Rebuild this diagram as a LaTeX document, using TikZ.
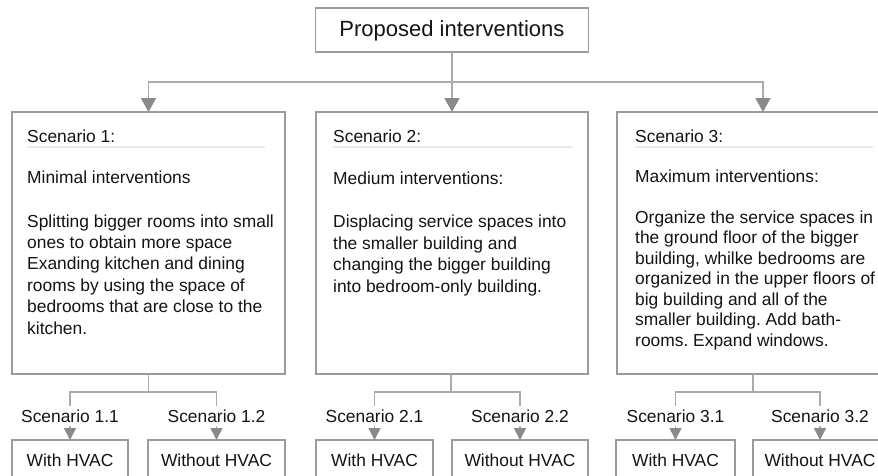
\documentclass[tikz,border=0pt]{standalone}
\usepackage{fontspec}
\setmainfont{Liberation Sans}
\frenchspacing
\usetikzlibrary{arrows.meta,calc}
\definecolor{boxgray}{HTML}{9B9B9B}
\definecolor{linegray}{HTML}{ABABAB}
\definecolor{tipgray}{HTML}{8A8A8A}
\definecolor{sepgray}{HTML}{E8E8E8}
\definecolor{textcol}{HTML}{141414}
\begin{document}
\begin{tikzpicture}[x=1pt,y=-1pt,
  every node/.style={text=textcol},
  bigbox/.style={draw=boxgray,line width=1.8pt,inner sep=0pt,outer sep=0pt,fill=white},
  subbox/.style={draw=boxgray,line width=1.8pt,inner sep=0pt,outer sep=0pt,minimum height=40pt,
    font=\fontsize{17.4}{21.3}\selectfont},
  txt/.style={inner sep=0pt,anchor=base west,font=\fontsize{17.4}{21.3}\selectfont},
  bodytxt/.style={inner sep=0pt,anchor=base west,align=left,font=\fontsize{17.4}{21.4}\selectfont},
  bodytxtb/.style={inner sep=0pt,anchor=base west,align=left,font=\fontsize{17.4}{20.5}\selectfont},
  sublabel/.style={inner sep=3.5pt,anchor=base,font=\fontsize{17.4}{21.3}\selectfont},
  conn/.style={draw=linegray,line width=1.5pt},
  bigarrow/.style={conn,-{Triangle[width=15pt,length=14pt,color=tipgray]}},
  smallarrow/.style={conn,-{Triangle[width=12pt,length=12pt,color=tipgray]}},
  sepline/.style={draw=sepgray,line width=1.6pt}
]
\useasboundingbox (0,0) rectangle (878,475);
\clip (0,0) rectangle (878,475);
\fill[white] (0,0) rectangle (878,475);

% title
\node[bigbox,minimum width=273pt,minimum height=44pt,text height=15pt,text depth=2pt,
  font=\fontsize{22}{26}\selectfont] (t) at (452,30) {Proposed interventions};

% scenario boxes
\node[bigbox,minimum width=273pt,minimum height=262pt] (s1) at (148.5,243) {};
\node[bigbox,minimum width=272pt,minimum height=262pt] (s2) at (452,243) {};
\node[bigbox,minimum width=292pt,minimum height=262pt] (s3) at (763,243) {};

% top connectors
\coordinate (h) at (452,82);
\draw[conn] (t.south) -- (h);
\draw[bigarrow] (h) -| (s1.north);
\draw[bigarrow] (h) -- (s2.north);
\draw[bigarrow] (h) -| (s3.north);

% box 1 text (multi-line nodes are anchored at the baseline of their last line)
\node[txt] (h1) at (27,142) {Scenario 1:};
\draw[sepline] (27,147) -- (265,147);
\node[txt] (m1) at (27,183) {Minimal interventions};
\node[bodytxt] (d1) at (27,334) {Splitting bigger rooms into small\\ones to obtain more space\\Exanding kitchen and dining\\rooms by using the space of\\bedrooms that are close to the\\kitchen.};

% box 2 text
\node[txt] (h2) at (333,142) {Scenario 2:};
\draw[sepline] (333,147) -- (572,147);
\node[txt] (m2) at (333,184) {Medium interventions:};
\node[bodytxt] (d2) at (333,292) {Displacing service spaces into\\the smaller building and\\changing the bigger building\\into bedroom-only building.};

% box 3 text
\node[txt] (h3) at (635,142) {Scenario 3:};
\draw[sepline] (635,147) -- (873,147);
\node[txt] (m3) at (635,182) {Maximum interventions:};
\node[bodytxtb] (d3) at (635,346) {Organize the service spaces in\\the ground floor of the bigger\\building, whilke bedrooms are\\organized in the upper floors of\\big building and all of the\\smaller building. Add bath-\\rooms. Expand windows.};

% sub labels
\node[sublabel] (l11) at (70,422) {Scenario 1.1};
\node[sublabel] (l12) at (216.5,422) {Scenario 1.2};
\node[sublabel] (l21) at (374.5,422) {Scenario 2.1};
\node[sublabel] (l22) at (520,422) {Scenario 2.2};
\node[sublabel] (l31) at (675.5,422) {Scenario 3.1};
\node[sublabel] (l32) at (820,422) {Scenario 3.2};

% sub boxes
\node[subbox,minimum width=116pt] (b11) at (70,460) {With HVAC};
\node[subbox,minimum width=137pt] (b12) at (216.5,460) {Without HVAC};
\node[subbox,minimum width=117pt] (b21) at (374.5,460) {With HVAC};
\node[subbox,minimum width=136pt] (b22) at (520,460) {Without HVAC};
\node[subbox,minimum width=119pt] (b31) at (675.5,460) {With HVAC};
\node[subbox,minimum width=134pt] (b32) at (820,460) {Without HVAC};

% bottom connectors
\coordinate (j1) at (148.5,392);
\coordinate (j2) at (451,392);
\coordinate (j3) at (753,392);
\draw[conn] (s1.south) -- (j1);
\draw[conn] (j2 |- s2.south) -- (j2);
\draw[conn] (j3 |- s3.south) -- (j3);
\draw[conn] (j1) -| (l11.north);
\draw[conn] (j1) -| (l12.north);
\draw[conn] (j2) -| (l21.north);
\draw[conn] (j2) -| (l22.north);
\draw[conn] (j3) -| (l31.north);
\draw[conn] (j3) -| (l32.north);

\draw[smallarrow] (l11.south) -- (b11.north);
\draw[smallarrow] (l12.south) -- (b12.north);
\draw[smallarrow] (l21.south) -- (b21.north);
\draw[smallarrow] (l22.south) -- (b22.north);
\draw[smallarrow] (l31.south) -- (b31.north);
\draw[smallarrow] (l32.south) -- (b32.north);
\end{tikzpicture}
\end{document}
